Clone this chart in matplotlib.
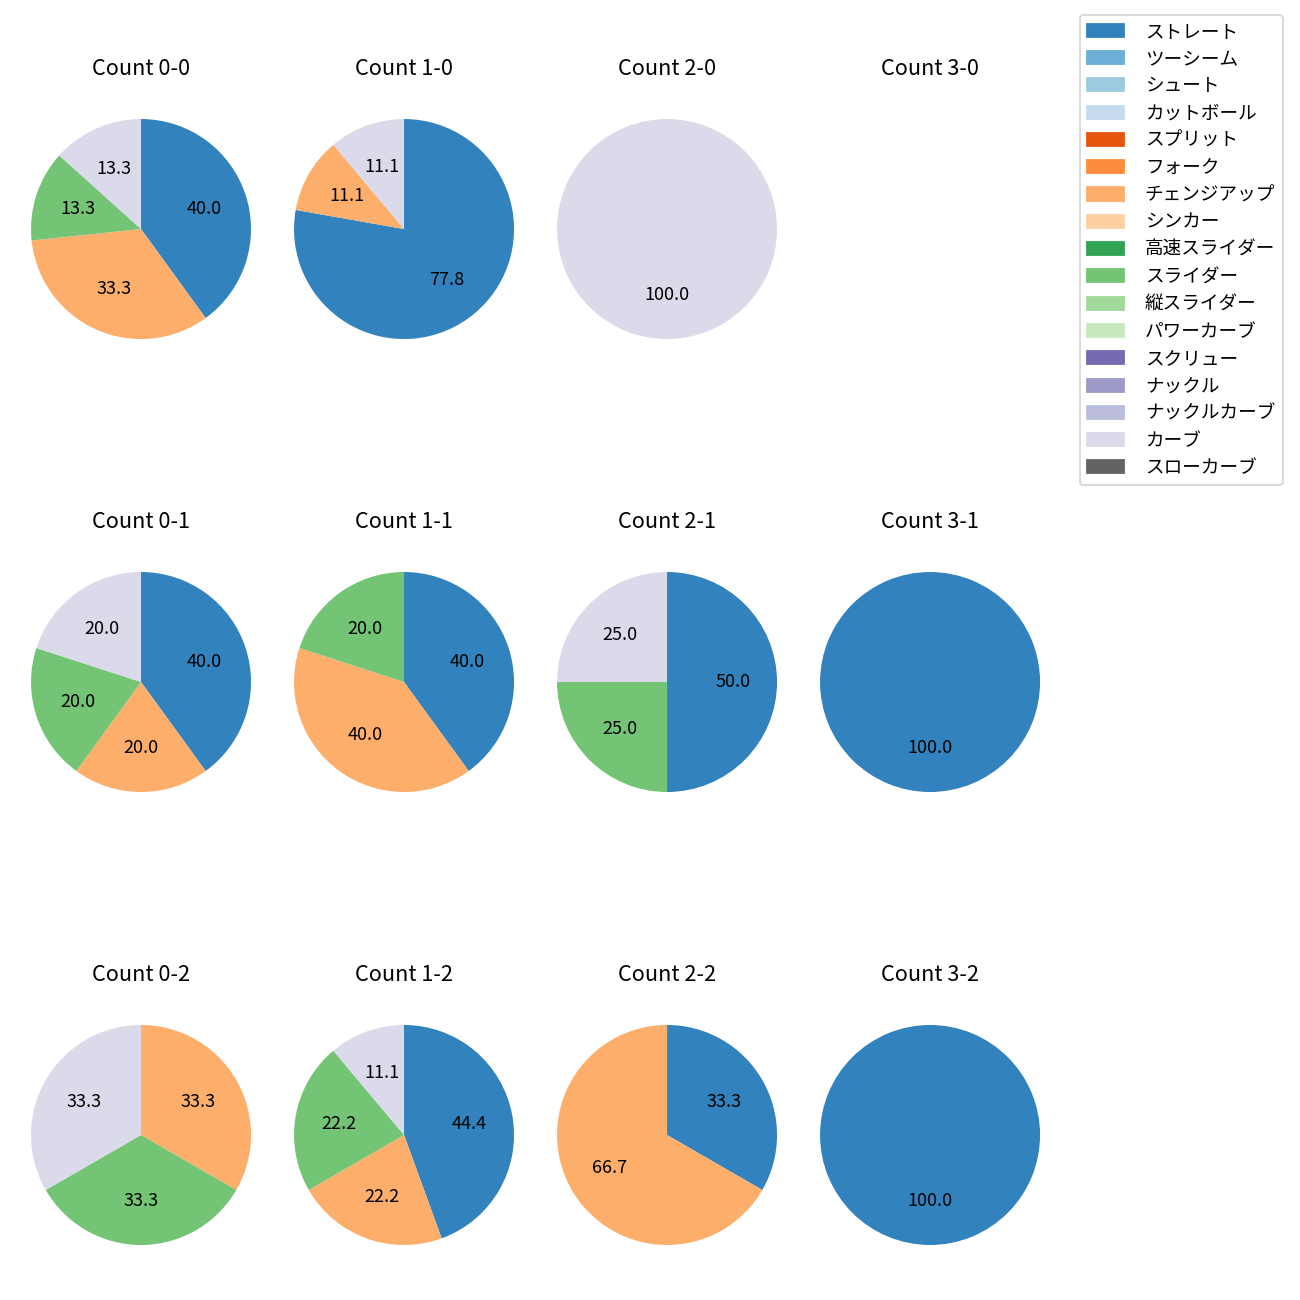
import matplotlib
matplotlib.use("Agg")
import matplotlib.pyplot as plt
import matplotlib.patches as mpatches
import numpy as np

plt.rcParams['font.family'] = ['Noto Sans CJK JP', 'DejaVu Sans']

# 球種 (凡例の順)
pitch_types = ['ストレート', 'ツーシーム', 'シュート', 'カットボール', 'スプリット',
               'フォーク', 'チェンジアップ', 'シンカー', '高速スライダー', 'スライダー',
               '縦スライダー', 'パワーカーブ', 'スクリュー', 'ナックル', 'ナックルカーブ',
               'カーブ', 'スローカーブ']

# カウントごとの投球数 (球種順)
#               St Tw Sh Cu Sp Fo Ch Si HS Sl VS PC Sc Kn KC Cv SC
count_0_0 = [6, 0, 0, 0, 0, 0, 5, 0, 0, 2, 0, 0, 0, 0, 0, 2, 0]
count_1_0 = [7, 0, 0, 0, 0, 0, 1, 0, 0, 0, 0, 0, 0, 0, 0, 1, 0]
count_2_0 = [0, 0, 0, 0, 0, 0, 0, 0, 0, 0, 0, 0, 0, 0, 0, 1, 0]
count_3_0 = [0, 0, 0, 0, 0, 0, 0, 0, 0, 0, 0, 0, 0, 0, 0, 0, 0]
count_0_1 = [2, 0, 0, 0, 0, 0, 1, 0, 0, 1, 0, 0, 0, 0, 0, 1, 0]
count_1_1 = [2, 0, 0, 0, 0, 0, 2, 0, 0, 1, 0, 0, 0, 0, 0, 0, 0]
count_2_1 = [2, 0, 0, 0, 0, 0, 0, 0, 0, 1, 0, 0, 0, 0, 0, 1, 0]
count_3_1 = [1, 0, 0, 0, 0, 0, 0, 0, 0, 0, 0, 0, 0, 0, 0, 0, 0]
count_0_2 = [0, 0, 0, 0, 0, 0, 1, 0, 0, 1, 0, 0, 0, 0, 0, 1, 0]
count_1_2 = [4, 0, 0, 0, 0, 0, 2, 0, 0, 2, 0, 0, 0, 0, 0, 1, 0]
count_2_2 = [1, 0, 0, 0, 0, 0, 2, 0, 0, 0, 0, 0, 0, 0, 0, 0, 0]
count_3_2 = [1, 0, 0, 0, 0, 0, 0, 0, 0, 0, 0, 0, 0, 0, 0, 0, 0]

counts = {
    (0, 0): count_0_0, (1, 0): count_1_0, (2, 0): count_2_0, (3, 0): count_3_0,
    (0, 1): count_0_1, (1, 1): count_1_1, (2, 1): count_2_1, (3, 1): count_3_1,
    (0, 2): count_0_2, (1, 2): count_1_2, (2, 2): count_2_2, (3, 2): count_3_2,
}

colors = [plt.cm.tab20c(i) for i in range(len(pitch_types))]

fig, axes = plt.subplots(3, 4, figsize=(10, 10))
fig.subplots_adjust(left=0.0027, right=0.8212, top=0.9296, bottom=0.02115,
                    wspace=-0.0436, hspace=0.647)

for strikes in range(3):
    for balls in range(4):
        ax = axes[strikes, balls]
        vals = np.array(counts[(balls, strikes)])
        ax.set_title(f'Count {balls}-{strikes}', fontsize=12, pad=9)
        if vals.sum() == 0:
            ax.axis('off')
            continue
        idx = np.nonzero(vals)[0]
        ax.pie(vals[idx], colors=[colors[i] for i in idx], autopct='%.1f',
               startangle=90, counterclock=False, textprops={'fontsize': 10})

handles = [mpatches.Patch(color=colors[i], label=p) for i, p in enumerate(pitch_types)]
fig.legend(handles=handles, loc='upper right', bbox_to_anchor=(0.9938, 0.9954),
           fontsize=10.3, handletextpad=1.1)

fig.savefig('out.png', dpi=130)
